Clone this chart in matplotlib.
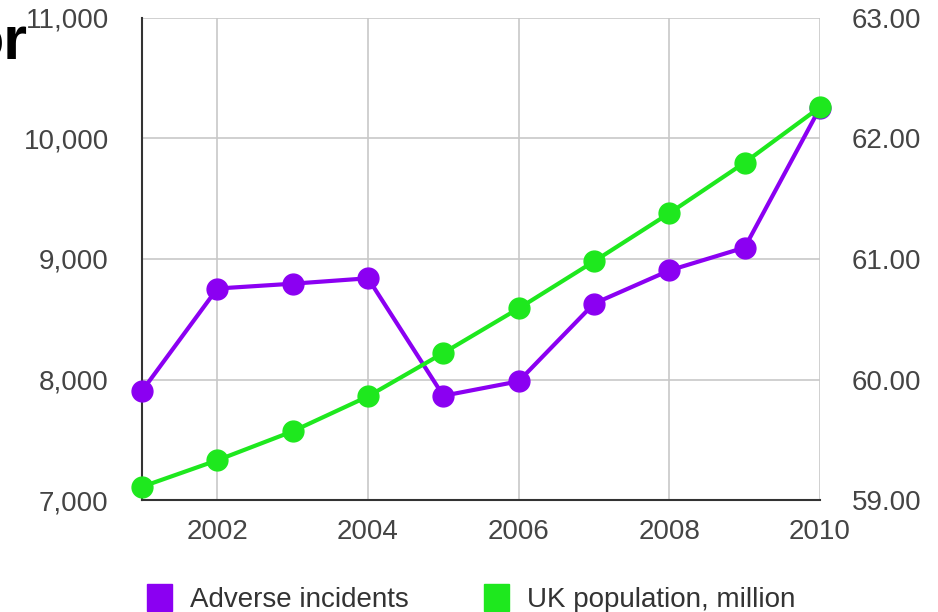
import matplotlib
matplotlib.use("Agg")
import matplotlib.pyplot as plt
from matplotlib.patches import Patch
from matplotlib.ticker import FuncFormatter

years = [2001, 2002, 2003, 2004, 2005, 2006, 2007, 2008, 2009, 2010]
adverse_incidents = [7905, 8755, 8795, 8840, 7865, 7985, 8630, 8905, 9095, 10255]
uk_population = [59.11, 59.33, 59.57, 59.86, 60.22, 60.59, 60.98, 61.38, 61.80, 62.26]
left_ticks = [7000, 8000, 9000, 10000, 11000]
right_ticks = [59, 60, 61, 62, 63]
x_ticks = [2002, 2004, 2006, 2008, 2010]
series_labels = ["Adverse incidents", "UK population, million"]

purple = "#8B00F2"
green = "#1EE81E"
txt = "#444444"

plt.rcParams['font.family'] = ['Liberation Sans', 'DejaVu Sans']
fig = plt.figure(figsize=(9.38, 6.12), dpi=100)
ax = fig.add_axes([0.1514, 0.183, 0.7228, 0.7876])
ax2 = ax.twinx()

ax.set_xlim(2001, 2010)
ax.set_ylim(7000, 11000)
ax2.set_ylim(59, 63)

ax.set_xticks(x_ticks)
ax.set_yticks(left_ticks)
ax2.set_yticks(right_ticks)
ax.yaxis.set_major_formatter(FuncFormatter(lambda v, p: f"{int(v):,}"))
ax2.yaxis.set_major_formatter(FuncFormatter(lambda v, p: f"{v:.2f}"))

ax.grid(True, color="#c8c8c8", linewidth=1.2)
ax.set_axisbelow(True)
for a in (ax, ax2):
    for s in a.spines.values():
        s.set_visible(False)
ax.spines['left'].set_visible(True)
ax.spines['bottom'].set_visible(True)
ax.spines['left'].set_color("#333333")
ax.spines['bottom'].set_color("#333333")
ax.spines['left'].set_linewidth(1.5)
ax.spines['bottom'].set_linewidth(1.5)

ax.tick_params(axis='both', length=0, labelsize=20, labelcolor=txt)
ax.tick_params(axis='y', pad=24)
ax.tick_params(axis='x', pad=14)
ax2.tick_params(axis='y', length=0, labelsize=20, labelcolor=txt, pad=23)

ax.plot(years, adverse_incidents, color=purple, lw=3, marker='o', ms=15, clip_on=False, zorder=3)
ax2.plot(years, uk_population, color=green, lw=3, marker='o', ms=15, clip_on=False, zorder=3)

handles = [Patch(facecolor=purple, edgecolor=purple), Patch(facecolor=green, edgecolor=green)]
leg = fig.legend(handles, series_labels, loc='center', bbox_to_anchor=(0.502, 0.022), ncol=2,
                 frameon=False, fontsize=20, handlelength=0.9, handleheight=1.1,
                 columnspacing=2.7, handletextpad=0.65, borderpad=0)
for t in leg.get_texts():
    t.set_color("#333333")

fig.text(0.029, 0.902, "or", fontsize=44, fontweight='bold', color="black", ha='right', va='baseline')

fig.savefig("out.png", dpi=100)
